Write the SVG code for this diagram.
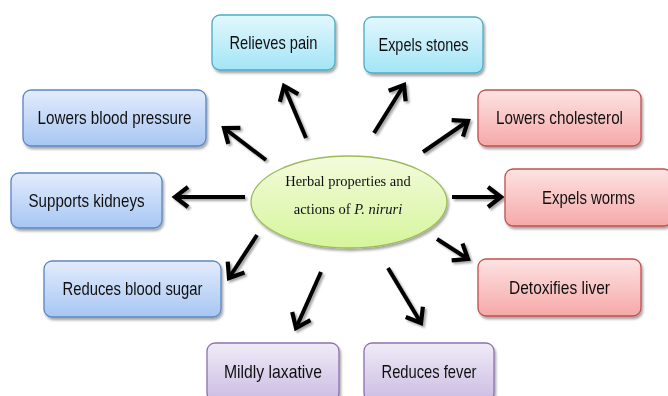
<svg xmlns="http://www.w3.org/2000/svg" width="668" height="396" viewBox="0 0 668 396">
<defs>
<linearGradient id="gBlue" x1="0" y1="0" x2="0" y2="1"><stop offset="0" stop-color="#e3ecfc"/><stop offset="1" stop-color="#a7c6f3"/></linearGradient>
<linearGradient id="gCyan" x1="0" y1="0" x2="0" y2="1"><stop offset="0" stop-color="#e3f7fd"/><stop offset="1" stop-color="#a3e5f6"/></linearGradient>
<linearGradient id="gRed" x1="0" y1="0" x2="0" y2="1"><stop offset="0" stop-color="#fde3e3"/><stop offset="1" stop-color="#f6a8a8"/></linearGradient>
<linearGradient id="gPurple" x1="0" y1="0" x2="0" y2="1"><stop offset="0" stop-color="#f0ebf7"/><stop offset="1" stop-color="#cbbce3"/></linearGradient>
<linearGradient id="gGreen" x1="0" y1="0" x2="0" y2="1"><stop offset="0" stop-color="#f4fbdc"/><stop offset="1" stop-color="#d5f59b"/></linearGradient>
<filter id="shadow" x="-10%" y="-10%" width="130%" height="140%"><feDropShadow dx="1.5" dy="2.5" stdDeviation="1" flood-color="#000" flood-opacity="0.35"/></filter>
<filter id="ashadow" x="-30%" y="-30%" width="160%" height="160%"><feDropShadow dx="2" dy="2" stdDeviation="0.8" flood-color="#000" flood-opacity="0.35"/></filter>
<marker id="head" markerUnits="userSpaceOnUse" viewBox="-18 -13 22 26" markerWidth="22" markerHeight="26" refX="0" refY="0" orient="auto">
<path d="M-13,-10 L0,0 L-13,10" fill="none" stroke="#000" stroke-width="4.2" stroke-linecap="butt" stroke-linejoin="miter"/>
</marker>
</defs>
<style>
.box{stroke-width:1.3}
.blue{fill:url(#gBlue);stroke:#5b86c4}
.cyan{fill:url(#gCyan);stroke:#4bacc6}
.red{fill:url(#gRed);stroke:#c0504d}
.purple{fill:url(#gPurple);stroke:#8d72b0}
.lbl{font-family:"Liberation Sans",Arial,sans-serif;font-size:19px;fill:#111;text-anchor:middle}
.ctr{font-family:"Liberation Serif","Times New Roman",serif;font-size:14.5px;fill:#111;text-anchor:middle}
.arr{stroke:#000;stroke-width:4;fill:none;marker-end:url(#head)}
</style>
<g id="center" filter="url(#shadow)">
<ellipse cx="349" cy="202" rx="98" ry="46" fill="url(#gGreen)" stroke="#9bbb59" stroke-width="1.3"/>
<text class="ctr" x="348" y="186">Herbal properties and</text>
<text class="ctr" x="348" y="214">actions of <tspan font-style="italic">P. niruri</tspan></text>
</g>
<g id="connectors" filter="url(#ashadow)">
<line class="arr" x1="306" y1="138" x2="284" y2="86"/>
<line class="arr" x1="266" y1="160" x2="224" y2="128"/>
<line class="arr" x1="245" y1="197" x2="175" y2="197"/>
<line class="arr" x1="374" y1="133" x2="404" y2="85"/>
<line class="arr" x1="423" y1="152" x2="468" y2="121"/>
<line class="arr" x1="452" y1="197" x2="501" y2="197"/>
<line class="arr" x1="437" y1="239" x2="468" y2="259"/>
<line class="arr" x1="388" y1="268" x2="421" y2="323"/>
<line class="arr" x1="321" y1="272" x2="296" y2="328"/>
<line class="arr" x1="257" y1="235" x2="229" y2="278"/>
</g>
<g id="relieves-pain" filter="url(#shadow)">
<rect class="box cyan" x="212" y="15" width="123" height="55" rx="8"/>
<text class="lbl" x="273.5" y="49" textLength="88" lengthAdjust="spacingAndGlyphs">Relieves pain</text>
</g>
<g id="expels-stones" filter="url(#shadow)">
<rect class="box cyan" x="364" y="17" width="119" height="56" rx="8"/>
<text class="lbl" x="423.5" y="51" textLength="90" lengthAdjust="spacingAndGlyphs">Expels stones</text>
</g>
<g id="lowers-blood-pressure" filter="url(#shadow)">
<rect class="box blue" x="23" y="90" width="183" height="56" rx="8"/>
<text class="lbl" x="114.5" y="124" textLength="154" lengthAdjust="spacingAndGlyphs">Lowers blood pressure</text>
</g>
<g id="supports-kidneys" filter="url(#shadow)">
<rect class="box blue" x="11" y="173" width="151" height="55" rx="8"/>
<text class="lbl" x="86.5" y="207" textLength="116" lengthAdjust="spacingAndGlyphs">Supports kidneys</text>
</g>
<g id="reduces-blood-sugar" filter="url(#shadow)">
<rect class="box blue" x="44" y="261" width="177" height="56" rx="8"/>
<text class="lbl" x="132.5" y="295" textLength="140" lengthAdjust="spacingAndGlyphs">Reduces blood sugar</text>
</g>
<g id="lowers-cholesterol" filter="url(#shadow)">
<rect class="box red" x="478" y="90" width="163" height="56" rx="8"/>
<text class="lbl" x="559.5" y="124" textLength="127" lengthAdjust="spacingAndGlyphs">Lowers cholesterol</text>
</g>
<g id="expels-worms" filter="url(#shadow)">
<rect class="box red" x="505" y="169" width="167" height="57" rx="8"/>
<text class="lbl" x="588.5" y="204" textLength="93" lengthAdjust="spacingAndGlyphs">Expels worms</text>
</g>
<g id="detoxifies-liver" filter="url(#shadow)">
<rect class="box red" x="478" y="259" width="163" height="57" rx="8"/>
<text class="lbl" x="559.5" y="294" textLength="101" lengthAdjust="spacingAndGlyphs">Detoxifies liver</text>
</g>
<g id="mildly-laxative" filter="url(#shadow)">
<rect class="box purple" x="207" y="343" width="132" height="58" rx="8"/>
<text class="lbl" x="273" y="378" textLength="98" lengthAdjust="spacingAndGlyphs">Mildly laxative</text>
</g>
<g id="reduces-fever" filter="url(#shadow)">
<rect class="box purple" x="364" y="343" width="130" height="58" rx="8"/>
<text class="lbl" x="429" y="378" textLength="95" lengthAdjust="spacingAndGlyphs">Reduces fever</text>
</g>
</svg>
